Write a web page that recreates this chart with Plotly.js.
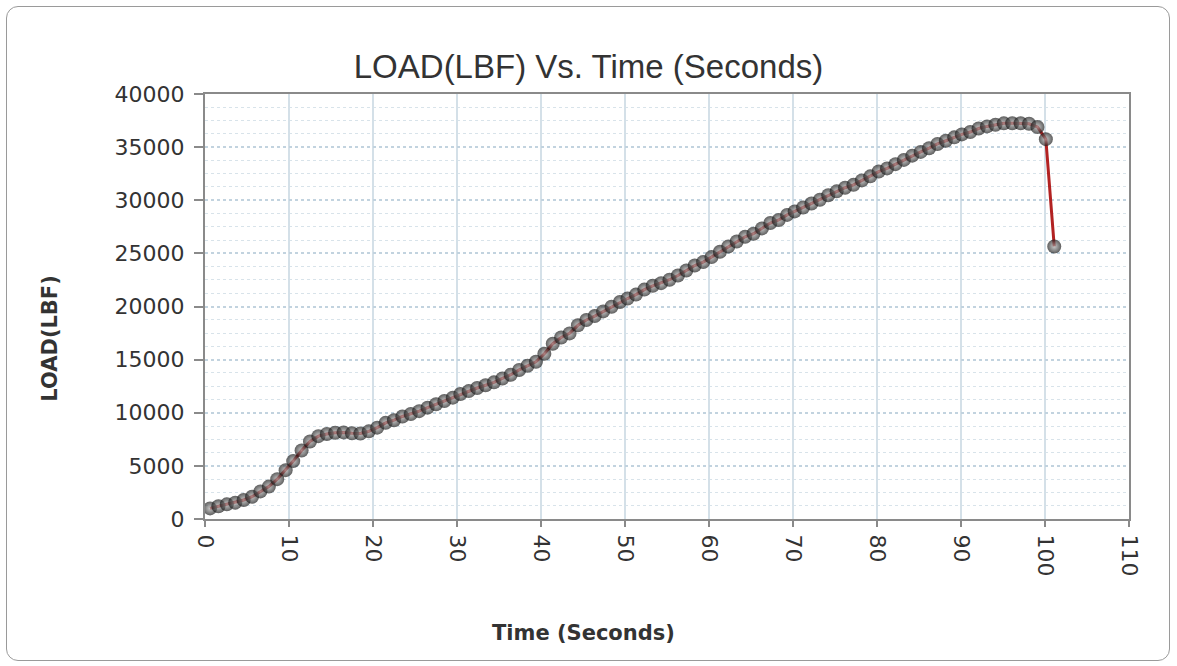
<!DOCTYPE html>
<html>
<head>
<meta charset="utf-8">
<script src="https://cdn.plot.ly/plotly-3.0.1.min.js"></script>
<style>
  html, body { margin: 0; padding: 0; background: #fff; }
  #frame { position: absolute; left: 6px; top: 6px; width: 1164px; height: 655px;
           border: 1.5px solid #9a9a9a; border-radius: 12px; box-sizing: border-box; pointer-events: none; z-index: 2; }
  #chart { position: absolute; left: 0; top: 0; width: 1177px; height: 666px; z-index: 1; }
</style>
</head>
<body>
<div id="frame"></div>
<div id="chart"></div>
<script>
// Time (seconds) of each sample
const timeSec = [
  0.6, 1.6, 2.6, 3.6, 4.6, 5.6, 6.6, 7.6, 8.6, 9.6,
  10.5, 11.5, 12.5, 13.5, 14.5, 15.5, 16.5, 17.5, 18.5, 19.5,
  20.5, 21.5, 22.5, 23.5, 24.5, 25.5, 26.5, 27.5, 28.5, 29.5,
  30.4, 31.4, 32.4, 33.4, 34.4, 35.4, 36.4, 37.4, 38.4, 39.4,
  40.4, 41.4, 42.4, 43.4, 44.4, 45.4, 46.4, 47.4, 48.4, 49.4,
  50.3, 51.3, 52.3, 53.3, 54.3, 55.3, 56.3, 57.3, 58.3, 59.3,
  60.3, 61.3, 62.3, 63.3, 64.3, 65.3, 66.3, 67.3, 68.3, 69.3,
  70.2, 71.2, 72.2, 73.2, 74.2, 75.2, 76.2, 77.2, 78.2, 79.2,
  80.2, 81.2, 82.2, 83.2, 84.2, 85.2, 86.2, 87.2, 88.2, 89.2,
  90.1, 91.1, 92.1, 93.1, 94.1, 95.1, 96.1, 97.1, 98.1, 99.1,
  100.1, 101.1
];
// Load (LBF)
const loadLbf = [
  1000, 1200, 1380, 1540, 1790, 2100, 2600, 3050, 3750, 4600,
  5450, 6450, 7300, 7800, 8000, 8120, 8150, 8060, 8050, 8250,
  8600, 9050, 9300, 9650, 9880, 10150, 10480, 10800, 11100, 11420,
  11760, 12040, 12330, 12590, 12860, 13230, 13580, 14030, 14430, 14800,
  15550, 16500, 17080, 17470, 18230, 18730, 19100, 19540, 19980, 20420,
  20750, 21120, 21590, 21950, 22200, 22520, 22920, 23390, 23860, 24180,
  24650, 25150, 25650, 26120, 26560, 26850, 27350, 27860, 28140, 28620,
  28950, 29320, 29700, 30050, 30470, 30840, 31180, 31450, 31870, 32250,
  32700, 33000, 33400, 33800, 34200, 34550, 34900, 35300, 35600, 35920,
  36200, 36420, 36750, 36950, 37100, 37240, 37250, 37250, 37200, 36900,
  35750, 25650
];
const xTickVals = [0, 10, 20, 30, 40, 50, 60, 70, 80, 90, 100, 110];
const yTickVals = [0, 5000, 10000, 15000, 20000, 25000, 30000, 35000, 40000];

const chartTitle = "LOAD(LBF) Vs. Time (Seconds)";
const xTitle = "Time (Seconds)";
const yTitle = "LOAD(LBF)";

const trace = {
  x: timeSec,
  y: loadLbf,
  type: 'scatter',
  mode: 'lines+markers',
  line: { color: '#b22222', width: 3 },
  marker: {
    size: 14,
    color: 'rgba(20,20,20,0.68)',
    gradient: { type: 'radial', color: 'rgba(175,175,175,0.68)' },
    line: { width: 0 }
  },
  hoverinfo: 'x+y'
};

const tickFont = { family: 'DejaVu Sans, Verdana, sans-serif', size: 22, color: '#333' };

const layout = {
  width: 1177,
  height: 666,
  margin: { l: 205, r: 48, t: 94, b: 147 },
  paper_bgcolor: 'rgba(0,0,0,0)',
  plot_bgcolor: '#ffffff',
  showlegend: false,
  title: {
    text: chartTitle,
    xref: 'container', x: 0.5, xanchor: 'center',
    yref: 'container', y: 0.9, yanchor: 'middle',
    font: { family: 'Liberation Sans, Arial, sans-serif', size: 33, color: '#333' }
  },
  xaxis: {
    range: [0, 110],
    tickvals: xTickVals,
    ticktext: xTickVals.map(String),
    tickangle: 90,
    ticks: 'outside', ticklen: 6, tickwidth: 2, tickcolor: '#8a8a8a',
    ticklabelstandoff: 3,
    tickfont: tickFont,
    showline: true, linecolor: '#8a8a8a', linewidth: 2, mirror: true,
    showgrid: true, gridcolor: '#d4e0e8', gridwidth: 2,
    zeroline: false
  },
  yaxis: {
    range: [0, 40000],
    tickvals: yTickVals,
    ticktext: yTickVals.map(String),
    ticks: 'outside', ticklen: 9, tickwidth: 2, tickcolor: '#8a8a8a',
    ticklabelstandoff: 5,
    tickfont: tickFont,
    showline: true, linecolor: '#8a8a8a', linewidth: 2, mirror: true,
    showgrid: true, gridcolor: '#c2d3df', gridwidth: 2, griddash: 'dot',
    zeroline: false,
    minor: { dtick: 1250, showgrid: true, gridcolor: '#d8e3ea', gridwidth: 1, griddash: 'dot', ticks: '' }
  },
  annotations: [
    {
      text: xTitle, xref: 'paper', yref: 'paper', x: 0.41, y: -0.268,
      xanchor: 'center', yanchor: 'middle', showarrow: false,
      font: { family: 'DejaVu Sans, Verdana, sans-serif', size: 21, color: '#333', weight: 'bold' }
    },
    {
      text: yTitle, xref: 'paper', yref: 'paper', x: -0.168, y: 0.426,
      xanchor: 'center', yanchor: 'middle', showarrow: false, textangle: -90,
      font: { family: 'DejaVu Sans, Verdana, sans-serif', size: 21, color: '#333', weight: 'bold' }
    }
  ]
};

Plotly.newPlot('chart', [trace], layout, { displayModeBar: false, staticPlot: true });
</script>
</body>
</html>
